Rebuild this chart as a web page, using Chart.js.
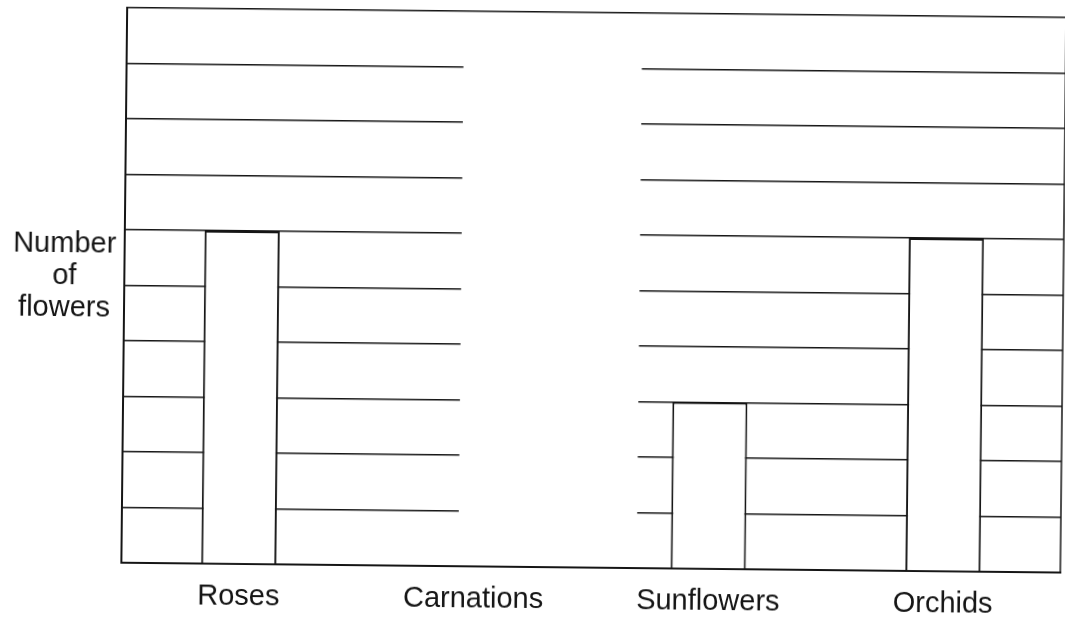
<!DOCTYPE html>
<html>
<head>
<meta charset="utf-8">
<script src="https://cdn.jsdelivr.net/npm/chart.js@4"></script>
<style>
  html, body { margin: 0; padding: 0; background: #fff; }
  #wrap { width: 1065px; height: 625px; transform: rotate(0.6deg); }
</style>
</head>
<body>
<div id="wrap"><canvas id="flowerChart" width="1065" height="625"></canvas></div>
<script>
const categories = ['Roses', 'Carnations', 'Sunflowers', 'Orchids'];
const flowerCounts = [6, null, 3, 6]; // carnations bar left blank on the sheet
const yMax = 10;

const INK = '#151515';
const FONT = '"Liberation Sans", Arial, sans-serif';

// blank strip where the carnations column was erased, plus the right frame edge
const sheetPlugin = {
  id: 'sheet',
  beforeDatasetsDraw(chart) {
    const { ctx, chartArea, scales } = chart;
    const w = scales.x.getPixelForValue(1) - scales.x.getPixelForValue(0);
    const c = scales.x.getPixelForValue(1);
    ctx.save();
    ctx.fillStyle = '#fff';
    ctx.fillRect(c - 0.065 * w, chartArea.top + 2, 0.76 * w, chartArea.bottom - chartArea.top - 4);
    ctx.restore();
  },
  afterDatasetsDraw(chart) {
    const { ctx, chartArea } = chart;
    ctx.save();
    ctx.strokeStyle = INK;
    ctx.lineWidth = 1.5;
    ctx.beginPath();
    ctx.moveTo(chartArea.right, chartArea.top);
    ctx.lineTo(chartArea.right, chartArea.bottom);
    ctx.stroke();

    // y-axis label, written flat in three lines
    ctx.fillStyle = INK;
    ctx.font = '29px ' + FONT;
    ctx.textAlign = 'center';
    ctx.textBaseline = 'middle';
    const mid = (chartArea.top + chartArea.bottom) / 2;
    ['Number', 'of', 'flowers'].forEach((t, i) => {
      ctx.fillText(t, chartArea.left - 60, mid - 40 + i * 32);
    });
    ctx.restore();
  }
};

new Chart(document.getElementById('flowerChart'), {
  type: 'bar',
  data: {
    labels: categories,
    datasets: [{
      data: flowerCounts,
      backgroundColor: '#fff',
      borderColor: INK,
      borderWidth: 2,
      barPercentage: 0.64,
      categoryPercentage: 0.5
    }]
  },
  options: {
    responsive: false,
    animation: false,
    layout: { padding: { left: 124, top: 12, right: 2, bottom: 0 } },
    plugins: { legend: { display: false }, tooltip: { enabled: false } },
    scales: {
      x: {
        grid: { display: false },
        border: { display: true, color: INK, width: 2 },
        ticks: { color: INK, padding: 12, font: { family: FONT, size: 29, lineHeight: 0.9 } }
      },
      y: {
        min: 0,
        max: yMax,
        ticks: { display: false, stepSize: 1 },
        grid: { color: INK, lineWidth: 1.5, drawTicks: false },
        border: { display: true, color: INK, width: 2 }
      }
    }
  },
  plugins: [sheetPlugin]
});
</script>
</body>
</html>
